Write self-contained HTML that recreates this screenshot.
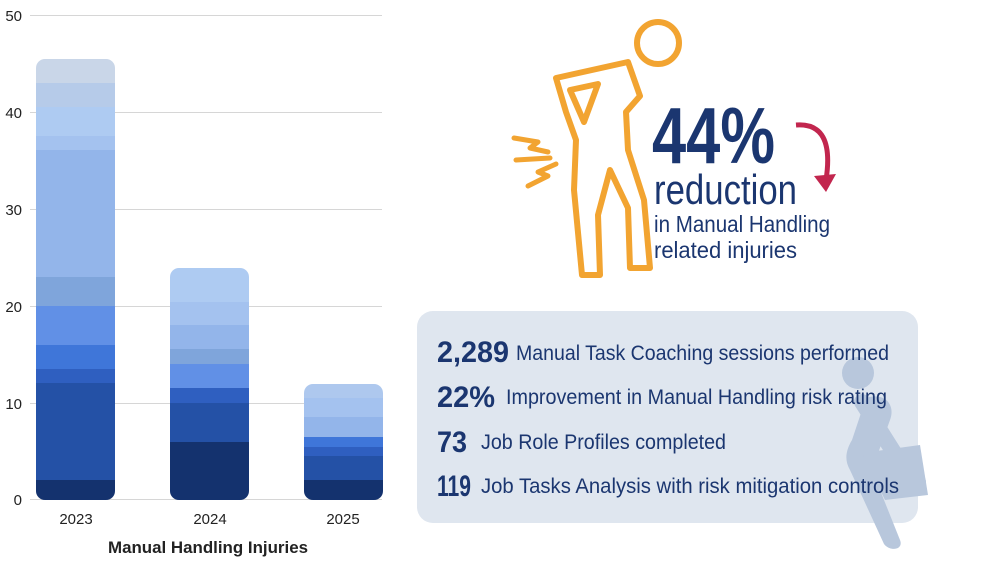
<!DOCTYPE html>
<html><head><meta charset="utf-8"><style>
html,body{margin:0;padding:0;background:#fff;}
svg{display:block;}
text{font-family:"Liberation Sans",sans-serif;}
</style></head><body>
<svg width="1000" height="563" viewBox="0 0 1000 563" xmlns="http://www.w3.org/2000/svg">
<g stroke="#d6d6d6" stroke-width="1">
<line x1="30" y1="15.5" x2="382" y2="15.5"/>
<line x1="30" y1="112.5" x2="382" y2="112.5"/>
<line x1="30" y1="209.5" x2="382" y2="209.5"/>
<line x1="30" y1="306.5" x2="382" y2="306.5"/>
<line x1="30" y1="403.5" x2="382" y2="403.5"/>
<line x1="30" y1="499.5" x2="382" y2="499.5"/>
</g>
<g font-size="15" fill="#222" text-anchor="end">
<text x="22" y="21">50</text><text x="22" y="118">40</text><text x="22" y="215">30</text>
<text x="22" y="312">20</text><text x="22" y="409">10</text><text x="22" y="505">0</text>
</g>
<defs>
<clipPath id="c1"><rect x="36" y="59" width="79" height="441" rx="9"/></clipPath>
<clipPath id="c2"><rect x="170" y="268" width="79" height="232" rx="9"/></clipPath>
<clipPath id="c3"><rect x="304" y="384" width="79" height="116" rx="9"/></clipPath>
</defs>
<g clip-path="url(#c1)">
<rect x="36" y="59" width="79" height="24" fill="#c9d6e8"/>
<rect x="36" y="83" width="79" height="24" fill="#b6cbe9"/>
<rect x="36" y="107" width="79" height="29" fill="#aecbf2"/>
<rect x="36" y="136" width="79" height="14" fill="#a4c2ef"/>
<rect x="36" y="150" width="79" height="127" fill="#93b5ea"/>
<rect x="36" y="277" width="79" height="29" fill="#7fa5db"/>
<rect x="36" y="306" width="79" height="39" fill="#6190e6"/>
<rect x="36" y="345" width="79" height="24" fill="#3f76d9"/>
<rect x="36" y="369" width="79" height="14" fill="#2f5fc0"/>
<rect x="36" y="383" width="79" height="97" fill="#2451a6"/>
<rect x="36" y="480" width="79" height="20" fill="#14326e"/>
</g>
<g clip-path="url(#c2)">
<rect x="170" y="268" width="79" height="34" fill="#aecbf2"/>
<rect x="170" y="302" width="79" height="23" fill="#a4c2ef"/>
<rect x="170" y="325" width="79" height="24" fill="#93b5ea"/>
<rect x="170" y="349" width="79" height="15" fill="#7fa5db"/>
<rect x="170" y="364" width="79" height="24" fill="#6190e6"/>
<rect x="170" y="388" width="79" height="15" fill="#2f5fc0"/>
<rect x="170" y="403" width="79" height="39" fill="#2451a6"/>
<rect x="170" y="442" width="79" height="58" fill="#14326e"/>
</g>
<g clip-path="url(#c3)">
<rect x="304" y="384" width="79" height="14" fill="#aec8ee"/>
<rect x="304" y="398" width="79" height="19" fill="#a4c2ef"/>
<rect x="304" y="417" width="79" height="20" fill="#93b5ea"/>
<rect x="304" y="437" width="79" height="10" fill="#3f76d9"/>
<rect x="304" y="447" width="79" height="9" fill="#2f5fc0"/>
<rect x="304" y="456" width="79" height="24" fill="#2451a6"/>
<rect x="304" y="480" width="79" height="20" fill="#14326e"/>
</g>
<g font-size="15" fill="#222" text-anchor="middle">
<text x="76" y="524">2023</text><text x="210" y="524">2024</text><text x="343" y="524">2025</text>
</g>
<text x="208" y="553" font-size="17" font-weight="bold" fill="#222" text-anchor="middle" textLength="200" lengthAdjust="spacingAndGlyphs">Manual Handling Injuries</text>

<!-- orange figure -->
<g fill="none" stroke="#f2a431" stroke-width="6" stroke-linejoin="round" stroke-linecap="round">
<circle cx="658" cy="43" r="21"/>
<path d="M628 62 L556 78 L566 112 L576 140 L574 190 L582 275 L600 275 L598 215 L610 170 L628 208 L630 268 L650 268 L644 200 L628 150 L626 112 L640 96 Z"/>
<path d="M570 90 L598 84 L584 122 Z"/>
</g>
<g fill="none" stroke="#f2a431" stroke-width="5" stroke-linecap="round" stroke-linejoin="round">
<path d="M514 138 L538 142 L530 148 L548 152"/>
<path d="M516 160 L550 158"/>
<path d="M528 186 L548 176 L538 172 L556 164"/>
</g>
<text x="652" y="163" font-size="80" font-weight="bold" fill="#1b3670" textLength="123" lengthAdjust="spacingAndGlyphs">44%</text>
<text x="654" y="204" font-size="42" fill="#1b3670" textLength="143" lengthAdjust="spacingAndGlyphs">reduction</text>
<text x="654" y="232" font-size="23" fill="#1b3670" textLength="176" lengthAdjust="spacingAndGlyphs">in Manual Handling</text>
<text x="654" y="258" font-size="23" fill="#1b3670" textLength="143" lengthAdjust="spacingAndGlyphs">related injuries</text>
<path d="M796 125 Q835 122 826 180" fill="none" stroke="#c2264e" stroke-width="5"/>
<path d="M814 176 L826 192 L836 174 Z" fill="#c2264e"/>

<!-- box -->
<rect x="417" y="311" width="501" height="212" rx="16" fill="#dfe6ef"/>
<g fill="#b8c7dc">
<circle cx="858" cy="373" r="16"/>
<path d="M866 398 C884 392 896 404 890 420 L872 470 L900 540 C904 550 890 552 884 544 L850 470 C844 460 846 450 852 440 Z" />
<path d="M862 402 L905 470 L918 482" stroke="#b8c7dc" stroke-width="16" fill="none" stroke-linecap="round"/>
<path d="M862 453 L920 445 L928 495 L885 500 Z"/>
</g>
<g fill="#1b3670">
<text x="437" y="362" font-size="30" font-weight="bold" textLength="72" lengthAdjust="spacingAndGlyphs">2,289</text>
<text x="516" y="360" font-size="21" textLength="373" lengthAdjust="spacingAndGlyphs">Manual Task Coaching sessions performed</text>
<text x="437" y="407" font-size="30" font-weight="bold" textLength="58" lengthAdjust="spacingAndGlyphs">22%</text>
<text x="506" y="404" font-size="21" textLength="381" lengthAdjust="spacingAndGlyphs">Improvement in Manual Handling risk rating</text>
<text x="437" y="452" font-size="30" font-weight="bold" textLength="30" lengthAdjust="spacingAndGlyphs">73</text>
<text x="481" y="449" font-size="21" textLength="245" lengthAdjust="spacingAndGlyphs">Job Role Profiles completed</text>
<text x="437" y="496" font-size="30" font-weight="bold" textLength="34" lengthAdjust="spacingAndGlyphs">119</text>
<text x="481" y="493" font-size="21" textLength="418" lengthAdjust="spacingAndGlyphs">Job Tasks Analysis with risk mitigation controls</text>
</g>
</svg>
</body></html>
